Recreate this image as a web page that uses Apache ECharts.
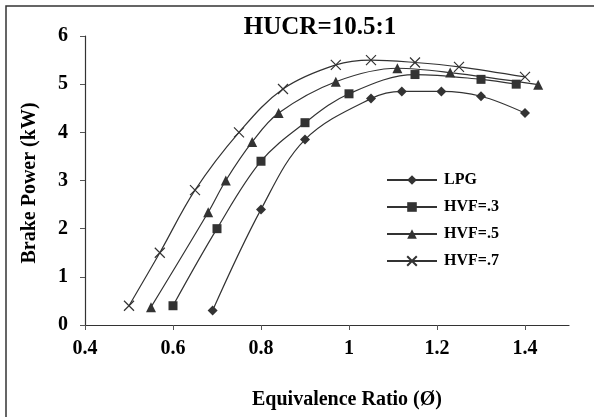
<!DOCTYPE html>
<html>
<head>
<meta charset="utf-8">
<script src="https://cdn.jsdelivr.net/npm/echarts@6/dist/echarts.min.js"></script>
<style>
html,body{margin:0;padding:0;background:#fff;}
#c{width:594px;height:417px;}
</style>
</head>
<body>
<div id="c"></div>
<script>
const titleText = 'HUCR=10.5:1';
const xAxisTitle = 'Equivalence Ratio (Ø)';
const yAxisTitle = 'Brake Power (kW)';
const seriesNames = ['LPG', 'HVF=.3', 'HVF=.5', 'HVF=.7'];
const xTickValues = [0.4, 0.6, 0.8, 1.0, 1.2, 1.4];

const lpgX = [0.69, 0.80, 0.90, 1.05, 1.12, 1.21, 1.30, 1.40];
const lpgY = [0.30, 2.40, 3.85, 4.70, 4.85, 4.85, 4.75, 4.40];
const hvf3X = [0.60, 0.70, 0.80, 0.90, 1.00, 1.15, 1.30, 1.38];
const hvf3Y = [0.40, 2.00, 3.40, 4.20, 4.80, 5.20, 5.10, 5.00];
const hvf5X = [0.55, 0.68, 0.72, 0.78, 0.84, 0.97, 1.11, 1.23, 1.43];
const hvf5Y = [0.37, 2.34, 3.00, 3.80, 4.40, 5.05, 5.33, 5.24, 4.99];
const hvf7X = [0.50, 0.57, 0.65, 0.75, 0.85, 0.97, 1.05, 1.15, 1.25, 1.40];
const hvf7Y = [0.40, 1.50, 2.80, 4.00, 4.90, 5.40, 5.50, 5.45, 5.36, 5.15];

function pairs(xs, ys) { return xs.map((x, i) => [x, ys[i]]); }

const font = 'Liberation Serif';
const ink = '#333333';
const crossPath = 'path://M0,0L10,10M10,0L0,10';

function mkSeries(name, xs, ys, symbol, size, cross) {
  return {
    name: name,
    type: 'line',
    data: pairs(xs, ys),
    smooth: 0.35,
    symbol: symbol,
    symbolSize: size,
    showAllSymbol: true,
    lineStyle: { color: ink, width: 1.2 },
    itemStyle: cross ? { color: 'none', borderColor: ink, borderWidth: 1.2 } : { color: ink, borderWidth: 0 },
    emphasis: { disabled: true },
    z: 3
  };
}

const chart = echarts.init(document.getElementById('c'), null, { renderer: 'canvas' });
chart.setOption({
  animation: false,
  backgroundColor: '#ffffff',
  grid: { left: 85, right: 25, top: 36, bottom: 92, containLabel: false },
  xAxis: {
    type: 'value', min: 0.4, max: 1.5, interval: 0.2,
    axisLine: { lineStyle: { color: ink, width: 1.2 } },
    axisTick: { show: true, length: 5, lineStyle: { color: '#555', width: 1 }, customValues: xTickValues },
    axisLabel: { customValues: xTickValues, margin: 14, color: '#000', fontFamily: font, fontWeight: 'bold', fontSize: 20,
      formatter: v => (Math.round(v * 10) / 10).toString() },
    splitLine: { show: false }
  },
  yAxis: {
    type: 'value', min: 0, max: 6, interval: 1,
    axisLine: { show: true, lineStyle: { color: ink, width: 1.2 } },
    axisTick: { show: true, length: 5, lineStyle: { color: '#555', width: 1 } },
    axisLabel: { margin: 17, color: '#000', fontFamily: font, fontWeight: 'bold', fontSize: 20 },
    splitLine: { show: false }
  },
  legend: {
    orient: 'vertical', left: 381, top: 167,
    itemWidth: 50, itemHeight: 12, itemGap: 11,
    textStyle: { color: '#000', fontFamily: font, fontWeight: 'bold', fontSize: 16, padding: [0, 0, 0, 2] },
    data: seriesNames,
    selectedMode: false
  },
  graphic: [
    { type: 'rect', shape: { x: 6, y: 6, width: 620, height: 440 }, style: { fill: 'none', stroke: ink, lineWidth: 1.5 }, silent: true, z: 0 },
    { type: 'text', x: 320, y: 28, style: { text: titleText, font: 'bold 25px ' + font, fill: '#000', align: 'center', verticalAlign: 'middle' } },
    { type: 'text', x: 347, y: 400, style: { text: xAxisTitle, font: 'bold 20px ' + font, fill: '#000', align: 'center', verticalAlign: 'middle' } },
    { type: 'text', x: 30, y: 183, rotation: Math.PI / 2, style: { text: yAxisTitle, font: 'bold 20px ' + font, fill: '#000', align: 'center', verticalAlign: 'middle' } }
  ],
  series: [
    mkSeries(seriesNames[0], lpgX, lpgY, 'diamond', 10, false),
    mkSeries(seriesNames[1], hvf3X, hvf3Y, 'rect', 9, false),
    mkSeries(seriesNames[2], hvf5X, hvf5Y, 'triangle', 10, false),
    mkSeries(seriesNames[3], hvf7X, hvf7Y, crossPath, 10, true)
  ]
});
</script>
</body>
</html>
